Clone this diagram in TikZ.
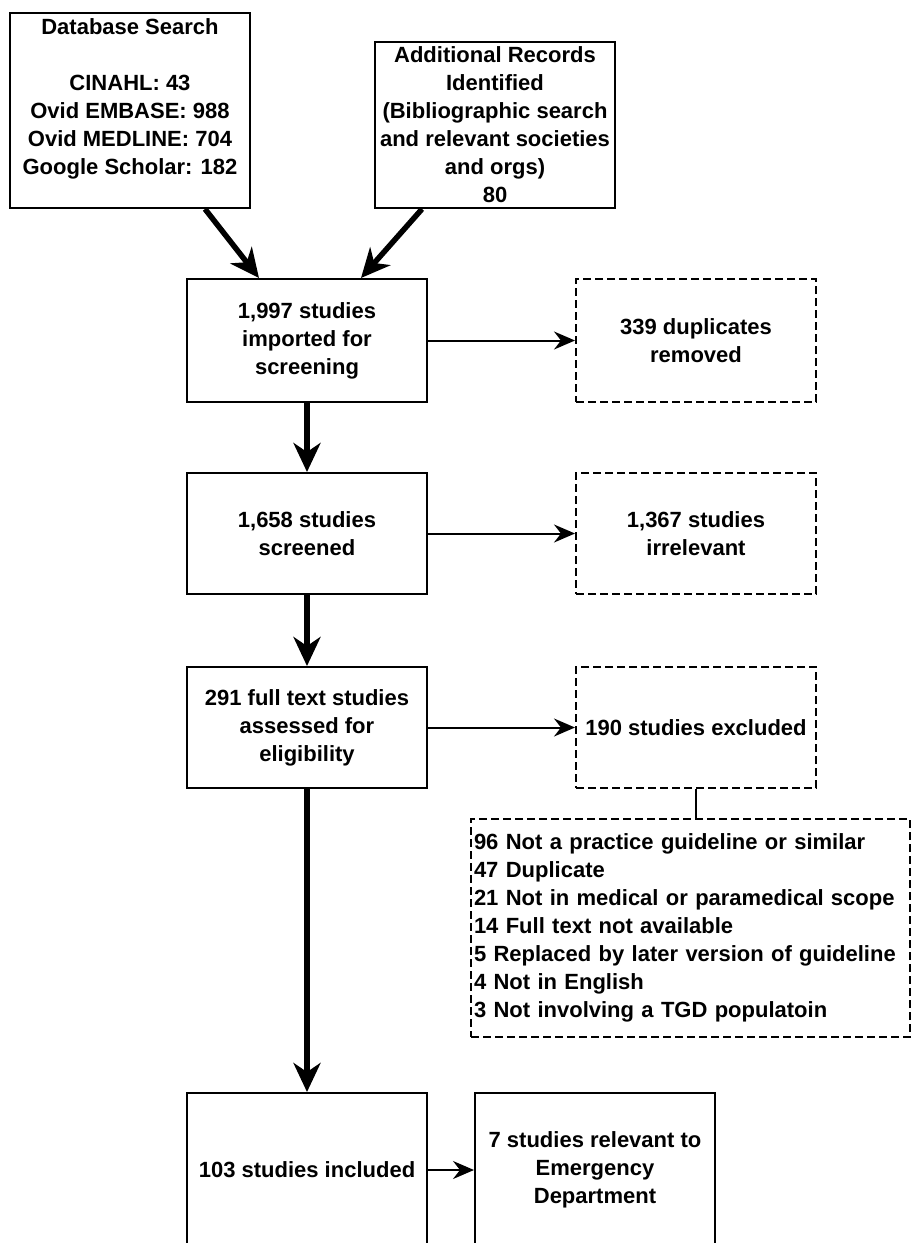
\documentclass[tikz,border=0pt]{standalone}
\usepackage{fontspec}
\setmainfont{Liberation Sans}
\usetikzlibrary{arrows.meta,calc}
\begin{document}
\begin{tikzpicture}[x=1pt,y=-1pt,
  every node/.style={font=\fontsize{22}{28}\selectfont\bfseries, inner sep=0pt},
  box/.style={draw=black, line width=2pt, rectangle, align=center, minimum width=240pt},
  dbox/.style={box, dash pattern=on 8pt off 4pt},
  thickarr/.style={line width=5.5pt, -{Stealth[length=29pt, width=27pt, inset=9pt]}},
  thinarr/.style={line width=2pt, -{Stealth[length=21pt, width=18pt, inset=7pt]}},
  plainline/.style={line width=2pt}]
\useasboundingbox (0,0) rectangle (912,1243);

\node[box, minimum height=195pt] (db) at (130,110.5) {};
\node[anchor=north, align=center] (dbtext) at ([yshift=-6pt]db.north)
  {Database Search\\ \mbox{}\\ CINAHL: 43\\ Ovid EMBASE: 988\\ Ovid MEDLINE: 704\\ Google Scholar: 182};

\node[box, minimum height=166pt] (add) at (495,125)
  {Additional Records\\ Identified\\ (Bibliographic search\\ and relevant societies\\ and orgs)\\ 80};

\node[box, minimum height=123pt] (b1997) at (307,340.5) {1,997 studies\\ imported for\\ screening};
\node[dbox, minimum height=123pt] (dup) at (696,340.5) {339 duplicates\\ removed};

\node[box, minimum height=121pt] (b1658) at (307,533.5) {1,658 studies\\ screened};
\node[dbox, minimum height=121pt] (irr) at (696,533.5) {1,367 studies\\ irrelevant};

\node[box, minimum height=121pt] (b291) at (307,727.5) {291 full text studies\\ assessed for\\ eligibility};
\node[dbox, minimum height=121pt] (excl) at (696,727.5) {190 studies excluded};

\node[dbox, minimum height=218pt, minimum width=0pt, text width=433pt, inner xsep=3pt, align=left] (list) at (690.5,928)
  {96 Not a practice guideline or similar\\
   47 Duplicate\\
   21 Not in medical or paramedical scope\\
   14 Full text not available\\
   5 Replaced by later version of guideline\\
   4 Not in English\\
   3 Not involving a TGD populatoin};

\node[box, minimum height=154pt] (inc) at (307,1170) {103 studies included};
\node[box, minimum height=154pt] (ed) at (595,1170) {7 studies relevant to\\ Emergency\\ Department};

\draw[thickarr] ([xshift=75pt]db.south) -- ([xshift=-48pt]b1997.north);
\draw[thickarr] ([xshift=-73pt]add.south) -- ([xshift=54pt]b1997.north);
\draw[thickarr] (b1997.south) -- (b1658.north);
\draw[thickarr] (b1658.south) -- (b291.north);
\draw[thickarr] (b291.south) -- (inc.north);
\draw[thinarr] (b1997.east) -- (dup.west);
\draw[thinarr] (b1658.east) -- (irr.west);
\draw[thinarr] (b291.east) -- (excl.west);
\draw[thinarr] (inc.east) -- (ed.west);
\draw[plainline] (excl.south) -- (excl.south |- list.north);
\end{tikzpicture}
\end{document}
